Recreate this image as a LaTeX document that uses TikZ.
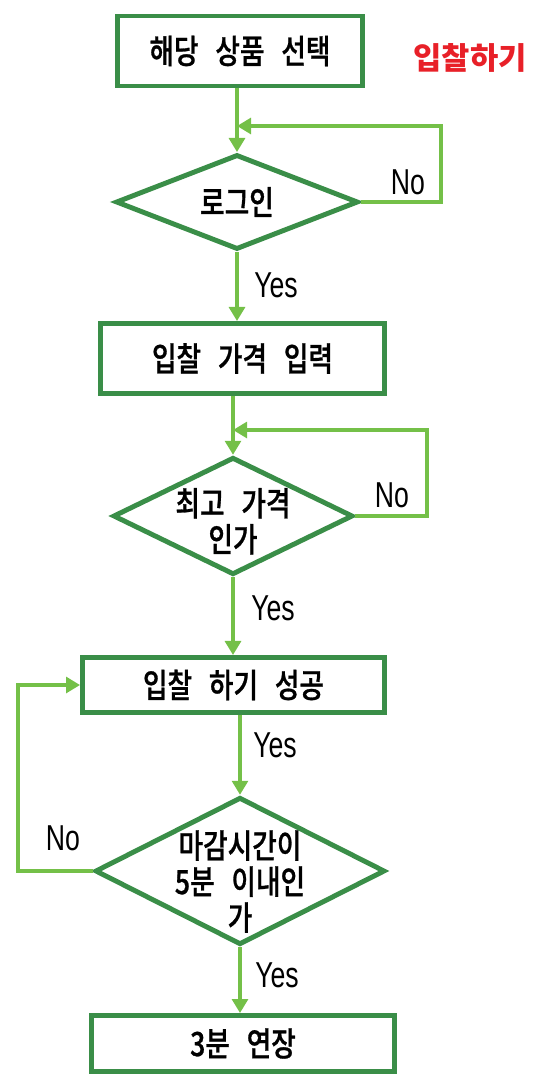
\documentclass[tikz,border=0pt]{standalone}
\usepackage{fontspec}
\usetikzlibrary{shapes.geometric,arrows.meta}

\newfontfamily\kr[FakeStretch=0.8,FakeBold=0.8,WordSpace=2.8]{Noto Sans CJK KR Medium}
\newfontfamily\krtitle{Noto Sans CJK KR}
\newfontfamily\lat[FakeStretch=0.74]{Liberation Sans}

\definecolor{boxgreen}{RGB}{58,142,72}
\definecolor{linegreen}{RGB}{116,192,72}
\definecolor{titlered}{RGB}{232,32,40}

\tikzset{
  boxtext/.style={font=\kr\fontsize{19}{20.5}\selectfont, align=center},
  stepbox/.style={draw=boxgreen, line width=2.8pt, boxtext},
  decision/.style={diamond, draw=boxgreen, line width=2.8pt, inner sep=0pt},
  flow/.style={draw=linegreen, line width=2.3pt, -{Triangle[length=8pt,width=9pt]}},
  yn/.style={font=\lat\fontsize{20.5}{21}\selectfont, inner sep=0pt},
  title/.style={font=\krtitle\bfseries\fontsize{17.5}{20}\selectfont, text=titlered}
}

\begin{document}
\begin{tikzpicture}[x=0.02cm, y=-0.02cm]
  \useasboundingbox (0,0) rectangle (550,1082);

  \node [title] (title) at (470,58) {입찰하기};

  % steps and decisions
  \node [stepbox, minimum width=4.9cm, minimum height=1.4cm] (sel) at (240,51) {해당 상품 선택};
  \node [decision, minimum width=4.85cm, minimum height=1.9cm,
         label={[boxtext]center:로그인}] (login) at (237,202) {};
  \node [stepbox, minimum width=5.68cm, minimum height=1.4cm] (bid) at (242.5,358.5) {입찰 가격 입력};
  \node [decision, minimum width=4.8cm, minimum height=2.35cm,
         label={[boxtext, yshift=-3pt]center:최고 가격\\인가}] (best) at (233,516) {};
  \node [stepbox, minimum width=6.04cm, minimum height=1.1cm] (ok) at (233.5,685) {입찰 하기 성공};
  \node [decision, minimum width=5.8cm, minimum height=2.95cm,
         label={[boxtext, yshift=-6pt]center:마감시간이\\5분 이내인\\가}] (end) at (240,871) {};
  \node [stepbox, minimum width=6.06cm, minimum height=1.12cm] (ext) at (243,1043.5) {3분 연장};

  % loop corners
  \coordinate (c1) at (441,202);
  \coordinate (c2) at (441,126);
  \coordinate (c3) at (427,516);
  \coordinate (c4) at (427,430);
  \coordinate (c5) at (18,871);
  \coordinate (c6) at (18,685);

  \draw [flow] (sel.south -| login.north) -- (login.north);
  \draw [flow] (login.east) -- (c1) -- (c2) -- (c2 -| login.north);
  \node [yn] (no1) at (408,182) {No};

  \draw [flow] (login.south) -- (login.south |- bid.north);
  \node [yn] (yes1) at (276,285) {Yes};

  \draw [flow] (bid.south -| best.north) -- (best.north);
  \draw [flow] (best.east) -- (c3) -- (c4) -- (c4 -| best.north);
  \node [yn] (no2) at (392,495) {No};

  \draw [flow] (best.south) -- (best.south |- ok.north);
  \node [yn] (yes2) at (273,608) {Yes};

  \draw [flow] (ok.south -| end.north) -- (end.north);
  \node [yn] (yes3) at (275,745) {Yes};

  \draw [flow] (end.west) -- (c5) -- (c6) -- (ok.west);
  \node [yn] (no3) at (63,838) {No};

  \draw [flow] (end.south) -- (end.south |- ext.north);
  \node [yn] (yes4) at (277,975) {Yes};
\end{tikzpicture}
\end{document}
